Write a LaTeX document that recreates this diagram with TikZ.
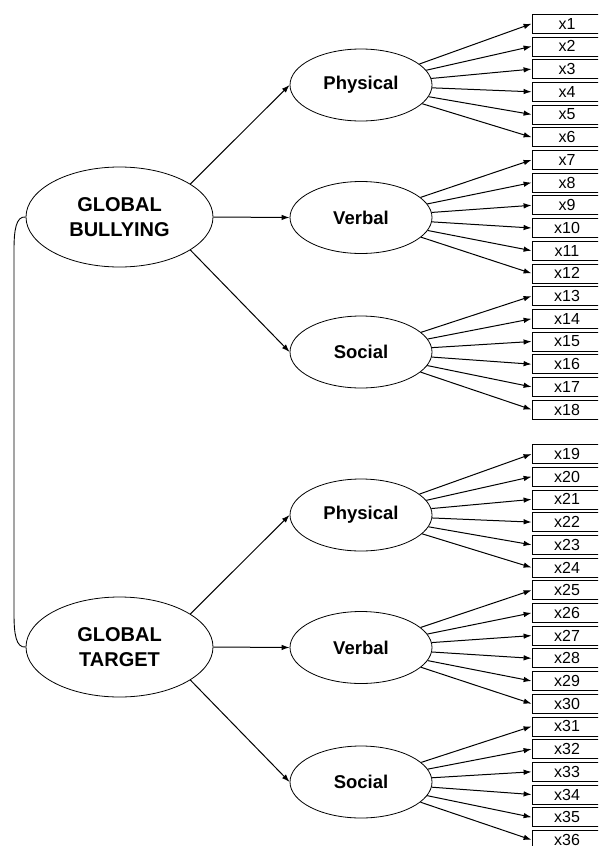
\documentclass[tikz,border=0pt]{standalone}
\usepackage{fontspec}
\setmainfont{Liberation Sans}
\usetikzlibrary{shapes.geometric,arrows.meta}
\begin{document}
\begin{tikzpicture}[x=1pt,y=-1pt,
  global/.style={ellipse,draw,line width=0.8pt,minimum width=187pt,minimum height=100pt,inner sep=0pt,
    font=\fontsize{20}{25}\selectfont\bfseries,align=center},
  factor/.style={ellipse,draw,line width=0.8pt,minimum width=142pt,minimum height=72pt,inner sep=0pt,
    font=\fontsize{18.5}{22}\selectfont\bfseries},
  item/.style={rectangle,draw,line width=0.8pt,minimum width=70pt,minimum height=19pt,inner sep=0pt,
    font=\fontsize{16}{18}\selectfont},
  arr/.style={line width=1pt,-{Latex[length=8pt,width=5.5pt]}},
  link/.style={line width=0.9pt}]
\clip (0,0) rectangle (598,846);
\fill[white] (0,0) rectangle (598,846);

\node[global] (GB) at (119.5,217) {GLOBAL\\BULLYING};
\node[global] (GT) at (119.5,647) {GLOBAL\\TARGET};

\node[factor] (P1) at (361,85) {Physical};
\node[factor] (V1) at (361,217.5) {Verbal};
\node[factor] (S1) at (361,352) {Social};
\node[factor] (P2) at (361,515) {Physical};
\node[factor] (V2) at (361,647.5) {Verbal};
\node[factor] (S2) at (361,782) {Social};

\foreach \i in {1,...,18} {
  \node[item] (x\i) at (567,{23.7+22.7*(\i-1)}) {x\i};
}
\foreach \i in {19,...,36} {
  \node[item] (x\i) at (567,{454+22.7*(\i-19)}) {x\i};
}

\draw[arr] (GB.25) -- (P1.west);
\draw[arr] (GB.east) -- (V1.west);
\draw[arr] (GB.-25) -- (S1.west);
\draw[arr] (GT.25) -- (P2.west);
\draw[arr] (GT.east) -- (V2.west);
\draw[arr] (GT.-25) -- (S2.west);

\foreach \i in {1,...,6} {\draw[arr] (P1) -- (x\i.west);}
\foreach \i in {7,...,12} {\draw[arr] (V1) -- (x\i.west);}
\foreach \i in {13,...,18} {\draw[arr] (S1) -- (x\i.west);}
\foreach \i in {19,...,24} {\draw[arr] (P2) -- (x\i.west);}
\foreach \i in {25,...,30} {\draw[arr] (V2) -- (x\i.west);}
\foreach \i in {31,...,36} {\draw[arr] (S2) -- (x\i.west);}

\coordinate (cA) at (14,250);
\coordinate (cB) at (14,614);
\draw[link] (GB.west) .. controls (16,216) and (14,230) .. (cA) -- (cB)
  .. controls (14,634) and (16,648) .. (GT.west);
\end{tikzpicture}
\end{document}
